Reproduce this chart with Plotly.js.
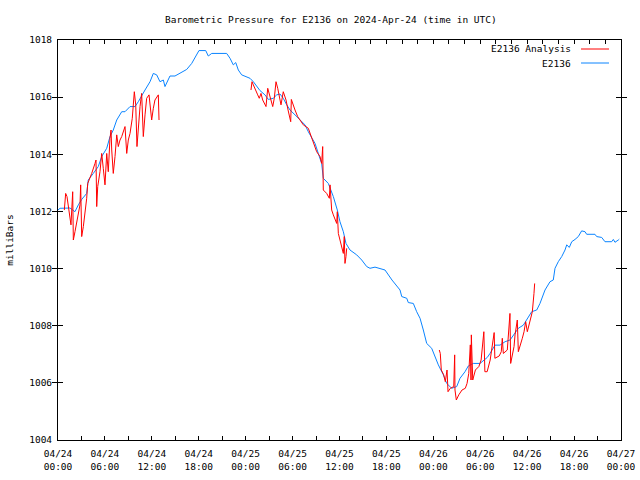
<!DOCTYPE html>
<html>
<head>
<meta charset="utf-8">
<script src="https://cdn.plot.ly/plotly-3.0.1.min.js"></script>
<style>html,body{margin:0;padding:0;background:#fff}#chart{width:640px;height:480px}</style>
</head>
<body>
<div id="chart"></div>
<script>
// Hours since 2024-04-24 00:00 UTC, pressure in milliBars
const stationHours = [0,0.26,1.53,2.17,2.6,3.03,3.67,3.87,4.51,5.15,5.59,6.23,6.65,7.07,7.51,8.15,8.57,9.21,9.85,10.27,11.13,11.77,12.19,12.62,13.04,13.47,13.68,14.32,14.96,15.82,16.46,17.1,17.74,18.03,18.89,19.22,19.66,21.57,22.0,22.42,22.73,23.06,23.49,24.55,24.98,25.41,25.83,26.47,26.9,27.53,27.97,28.39,28.81,29.25,29.67,30.31,30.95,31.59,32.01,32.45,32.87,33.29,33.72,33.93,34.57,35.21,35.72,36.06,36.49,36.83,37.34,38.2,38.84,39.48,39.9,40.54,41.82,42.71,43.74,43.96,44.6,44.8,45.44,45.87,46.3,46.72,47.15,47.79,48.21,48.64,49.28,49.71,50.35,50.99,51.41,52.05,52.47,53.11,53.97,54.61,54.9,55.25,55.89,56.53,57.17,57.81,58.45,58.87,59.51,60.15,60.58,61.22,61.64,62.28,62.92,63.34,63.56,63.98,64.42,64.84,65.06,65.39,65.7,66.12,66.54,66.97,67.4,67.61,68.67,68.89,69.53,69.95,70.81,71.02,71.23,71.66,71.78];
const stationPressure = [1012.05,1012.11,1012.12,1011.99,1012.23,1012.42,1012.63,1013.1,1013.33,1013.57,1013.92,1014.21,1014.62,1014.85,1015.2,1015.49,1015.49,1015.67,1015.67,1015.84,1016.25,1016.54,1016.83,1016.78,1016.54,1016.6,1016.37,1016.74,1016.74,1016.86,1016.97,1017.18,1017.48,1017.63,1017.63,1017.44,1017.53,1017.53,1017.36,1017.13,1017.21,1016.95,1016.78,1016.66,1016.54,1016.37,1016.23,1016.08,1015.92,1015.96,1016.08,1016.11,1015.96,1015.73,1015.55,1015.38,1015.2,1015.03,1014.79,1014.56,1014.38,1014.03,1013.68,1013.16,1012.98,1012.52,1012.05,1011.64,1011.29,1010.88,1010.65,1010.48,1010.3,1010.07,1010.01,1010.05,1009.95,1009.6,1009.25,1009.02,1008.96,1008.81,1008.78,1008.49,1008.26,1007.85,1007.38,1007.21,1006.92,1006.63,1006.28,1005.98,1005.81,1005.87,1006.16,1006.39,1006.59,1006.68,1006.68,1006.82,1006.89,1007.03,1007.32,1007.32,1007.44,1007.5,1007.73,1007.91,1008.02,1008.32,1008.49,1008.55,1008.78,1009.25,1009.54,1009.6,1010.01,1010.24,1010.42,1010.65,1010.83,1010.74,1010.94,1011.02,1011.12,1011.32,1011.29,1011.2,1011.2,1011.12,1011.09,1010.94,1010.94,1011.02,1010.92,1011.0,1011.03];

const analysisHours = [0.81,0.98,1.15,1.32,1.5,1.66,1.88,1.96,2.17,2.39,2.6,2.81,2.9,3.03,3.24,3.45,3.67,3.8,4.0,4.31,4.73,4.86,4.95,5.08,5.37,5.59,5.79,6.01,6.23,6.43,6.65,6.78,6.87,7.07,7.29,7.51,7.71,7.93,8.15,8.57,8.79,8.99,9.21,9.5,9.76,9.94,10.1,10.27,10.49,10.7,10.78,10.91,11.13,11.34,11.64,11.77,11.98,12.19,12.4,12.83,12.92,
  null,
  24.68,24.81,24.98,25.23,25.54,25.74,25.96,26.18,26.38,26.6,26.82,27.02,27.24,27.46,27.66,27.88,28.1,28.3,28.52,28.81,29.16,29.42,29.67,29.76,29.84,30.05,30.31,30.65,30.95,31.37,32.01,32.23,32.45,32.74,33.08,33.51,33.72,33.85,33.93,33.93,34.36,34.7,34.79,34.88,35.0,35.21,35.42,35.64,35.72,35.85,36.06,36.28,36.49,36.61,36.7,36.83,36.92,
  null,
  48.76,48.89,49.02,49.33,49.53,49.75,49.88,50.17,50.61,50.73,50.77,50.94,51.25,51.67,52.09,52.31,52.53,52.73,52.82,52.86,53.04,53.38,53.82,54.11,54.46,54.59,54.88,55.27,55.78,55.87,56.42,56.69,56.82,56.95,57.46,57.8,57.89,58.1,58.32,58.45,58.74,58.87,59.17,59.38,59.6,59.81,60.02,60.45,60.66,60.87,60.96];
const analysisPressure = [1012.05,1012.63,1012.52,1012.17,1011.82,1011.53,1012.69,1011.0,1011.29,1011.64,1011.93,1012.23,1012.93,1011.12,1011.47,1011.93,1012.46,1012.98,1013.1,1013.33,1013.68,1013.8,1012.17,1012.87,1013.39,1014.03,1013.51,1012.93,1014.03,1013.39,1014.56,1014.85,1014.15,1013.33,1013.92,1014.68,1014.27,1014.5,1014.62,1014.97,1014.03,1014.5,1014.73,1015.26,1016.19,1015.73,1014.27,1015.08,1015.67,1016.13,1015.32,1014.62,1015.38,1015.96,1016.08,1015.67,1015.2,1015.61,1015.9,1016.08,1015.2,
  null,
  1016.25,1016.54,1016.43,1016.25,1016.08,1015.96,1016.13,1015.9,1015.78,1015.67,1016.31,1016.13,1015.9,1015.67,1015.96,1016.54,1016.31,1015.96,1015.73,1016.19,1015.9,1015.55,1015.26,1015.14,1015.92,1015.73,1015.55,1015.32,1015.2,1015.03,1014.91,1014.73,1014.56,1014.33,1014.09,1013.92,1013.68,1014.27,1013.45,1012.75,1012.63,1012.46,1012.93,1012.4,1012.05,1011.88,1011.7,1011.58,1011.99,1011.23,1011.0,1010.77,1010.53,1011.12,1010.18,1010.42,1010.71,
  null,
  1007.15,1007.03,1006.45,1006.28,1006.04,1006.45,1005.69,1005.81,1005.87,1006.98,1005.75,1005.4,1005.58,1005.75,1005.81,1005.98,1006.33,1007.33,1006.1,1007.68,1006.1,1006.45,1006.57,1006.8,1007.79,1006.39,1006.39,1006.8,1007.76,1006.86,1006.94,1007.09,1007.56,1007.03,1007.15,1008.43,1006.68,1006.92,1007.27,1007.68,1008.2,1007.09,1007.33,1007.56,1007.79,1008.14,1007.79,1008.2,1008.49,1009.13,1009.48];

const seriesNames = ['E2136 Analysis', 'E2136'];
const yTicks = [1004,1006,1008,1010,1012,1014,1016,1018];

const T0 = Date.UTC(2024, 3, 24, 0, 0, 0);
const HOUR = 3600000;
const toTime = h => (h === null ? null : T0 + h * HOUR);

const font = {family: 'DejaVu Sans Mono, Liberation Mono, monospace', size: 9.5, color: '#000'};
const RED = '#ff0000', BLUE = '#0a84ff';

const traces = [
  {x: analysisHours.map(toTime), y: analysisPressure, name: seriesNames[0], type: 'scatter', mode: 'lines',
   xaxis: 'x2', yaxis: 'y', line: {color: RED, width: 1}, connectgaps: false, hoverinfo: 'skip'},
  {x: stationHours.map(toTime), y: stationPressure, name: seriesNames[1], type: 'scatter', mode: 'lines',
   xaxis: 'x', yaxis: 'y', line: {color: BLUE, width: 1}, hoverinfo: 'skip'}
];

const xr = [T0, T0 + 72 * HOUR];
const layout = {
  width: 640, height: 480,
  margin: {l: 58, r: 19, t: 40, b: 40, pad: 0},
  paper_bgcolor: '#fff', plot_bgcolor: '#fff',
  font: font,
  showlegend: false,
  title: {text: 'Barometric Pressure for E2136 on 2024-Apr-24 (time in UTC)', font: font,
          xref: 'container', x: 0.517, xanchor: 'center', yref: 'container', y: 0.96, yanchor: 'middle'},
  xaxis: {
    type: 'date', range: xr, showgrid: false, zeroline: false,
    showline: true, linecolor: '#000', linewidth: 1, mirror: false,
    ticks: 'inside', ticklen: 4, tickcolor: '#000', tickwidth: 1,
    tick0: T0, dtick: 6 * HOUR, tickformat: '%m/%d<br>%H:%M', ticklabelstandoff: 5,
    minor: {ticks: 'inside', ticklen: 4, dtick: 3 * HOUR, tick0: T0, tickcolor: '#000', showgrid: false},
    tickfont: font, fixedrange: true
  },
  xaxis2: {
    type: 'date', range: xr, overlaying: 'x', side: 'top', anchor: 'y', showgrid: false, zeroline: false,
    showline: true, linecolor: '#000', linewidth: 1,
    ticks: 'inside', ticklen: 4, tickcolor: '#000', tick0: T0, dtick: 2 * HOUR,
    showticklabels: false, fixedrange: true
  },
  yaxis: {
    range: [1004, 1018], showgrid: false, zeroline: false,
    showline: true, linecolor: '#000', linewidth: 1, mirror: 'allticks',
    ticks: 'inside', ticklen: 5, tickcolor: '#000', ticklabelstandoff: 3,
    tickmode: 'array', tickvals: yTicks, ticktext: yTicks.map(String),
    tickfont: font, fixedrange: true,
    title: {text: 'milliBars', font: font, standoff: 13}
  },
  annotations: [
    {xref: 'paper', yref: 'paper', x: 0.9147, y: 0.9775, xanchor: 'right', yanchor: 'middle',
     text: seriesNames[0], showarrow: false, font: font},
    {xref: 'paper', yref: 'paper', x: 0.9147, y: 0.9425, xanchor: 'right', yanchor: 'middle',
     text: seriesNames[1], showarrow: false, font: font}
  ],
  shapes: [
    {type: 'line', xref: 'paper', yref: 'paper', x0: 0.929, x1: 0.9787, y0: 0.9775, y1: 0.9775,
     line: {color: RED, width: 1}},
    {type: 'line', xref: 'paper', yref: 'paper', x0: 0.929, x1: 0.9787, y0: 0.9425, y1: 0.9425,
     line: {color: BLUE, width: 1}}
  ]
};

Plotly.newPlot('chart', traces, layout, {staticPlot: true, displayModeBar: false});
</script>
</body>
</html>
